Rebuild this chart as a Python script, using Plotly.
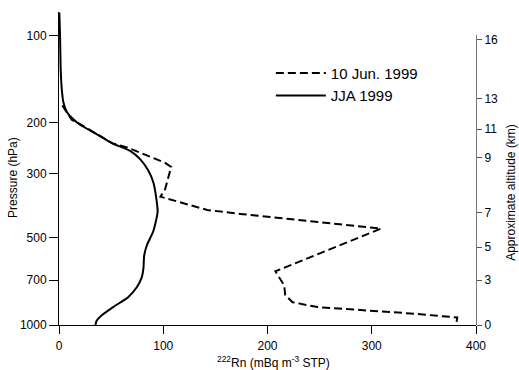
import plotly.graph_objects as go
import math

# --- data ---
jja_rn = [0.3, 1.0, 1.6, 2.6, 4.1, 7.4, 12.2, 20.2, 39.4, 50.6, 68.2, 77.8, 85.8, 90.6, 93.2,
          94.6, 90.6, 84.2, 81.7, 81.0, 79.4, 74.6, 66.3, 51.9, 41.3, 36.0, 35.0]
jja_p = [83, 99, 130, 152, 169, 183, 192, 203, 222, 235, 250, 267, 293, 322, 362,
         406, 472, 531, 575, 637, 684, 740, 801, 867, 924, 969, 1000]

jun_rn = [3.2, 12.2, 20.2, 50.9, 65.3, 101.8, 107.6, 101.8, 97.3, 142.2, 173.9, 270.0, 309.0,
          207.5, 216.0, 217.0, 224.0, 248.0, 337.0, 382.0, 381.0]
jun_p = [174, 195, 202, 235, 243, 275, 284, 339, 360, 400, 413, 448, 464,
         652, 729, 788, 834, 867, 912, 942, 1000]

pressure_ticks = [100, 200, 300, 500, 700, 1000]
x_ticks = [0, 100, 200, 300, 400]
altitude_labels = ["16", "13", "11", "9", "7", "5", "3", "0"]
altitude_pressure = [103, 165, 210, 264, 408, 538, 700, 1000]

FONT = "Liberation Sans, Arial, sans-serif"

fig = go.Figure()
fig.add_trace(go.Scatter(x=jun_rn, y=jun_p, mode="lines", name="10 Jun. 1999",
                         line=dict(color="black", width=2, dash="8px,4px")))
fig.add_trace(go.Scatter(x=jja_rn, y=jja_p, mode="lines", name="JJA 1999",
                         line=dict(color="black", width=2, shape="spline", smoothing=0.6)))
# placeholder trace so the right-hand altitude axis is drawn
fig.add_trace(go.Scatter(x=[None], y=[None], yaxis="y2", showlegend=False, hoverinfo="skip"))

top_p = 82.7
right_top_p = 99.2
L, R, T, B = 59, 43, 10, 45
W, H = 519, 370
plot_h = H - T - B
pw = W - L - R
frac2 = (math.log10(1000) - math.log10(right_top_p)) / (math.log10(1000) - math.log10(top_p))


def px_x(x):
    return (x - L) / pw


def px_y(y):
    return (H - B - y) / plot_h


fig.update_layout(
    width=W, height=H,
    margin=dict(l=L, r=R, t=T, b=B),
    paper_bgcolor="white", plot_bgcolor="rgba(0,0,0,0)",
    font=dict(family=FONT, size=12, color="black"),
    showlegend=True,
    legend=dict(x=0.508, y=0.857, xanchor="left", yanchor="top",
                font=dict(size=15, family=FONT, color="black"),
                bgcolor="rgba(0,0,0,0)", itemwidth=50, tracegroupgap=0),
    xaxis=dict(range=[0, 400], tickvals=x_ticks, showgrid=False, zeroline=False,
               showline=True, linecolor="black", linewidth=1, ticks="outside",
               ticklen=8, tickcolor="black", tickfont=dict(size=12), ticklabelstandoff=2),
    yaxis=dict(type="log", range=[3, math.log10(top_p)], tickvals=pressure_ticks,
               ticktext=[str(v) for v in pressure_ticks], showgrid=False, zeroline=False,
               showline=True, linecolor="black", linewidth=1, ticks="outside",
               ticklen=9, tickcolor="black", tickfont=dict(size=12)),
    yaxis2=dict(type="log", range=[3, math.log10(right_top_p)], domain=[0, frac2],
                anchor="x", side="right", tickvals=altitude_pressure,
                ticktext=altitude_labels, showgrid=False, zeroline=False,
                showline=True, linecolor="#777", linewidth=1, ticks="outside",
                ticklen=5, tickcolor="#555", tickfont=dict(size=12)),
    annotations=[
        dict(text="Pressure (hPa)", x=px_x(13), y=px_y(177), xref="paper", yref="paper",
             xanchor="center", yanchor="middle",
             showarrow=False, textangle=-90, font=dict(size=12)),
        dict(text="Approximate altitude (km)", x=px_x(511), y=px_y(191), xref="paper",
             yref="paper", xanchor="center", yanchor="middle",
             showarrow=False, textangle=-90, font=dict(size=12)),
        dict(text="<sup>222</sup>Rn (mBq m<sup>-3</sup> STP)", x=px_x(273), y=px_y(362),
             xref="paper", yref="paper", xanchor="center", yanchor="middle",
             showarrow=False, font=dict(size=12)),
    ],
)

fig.write_html("out.html")
